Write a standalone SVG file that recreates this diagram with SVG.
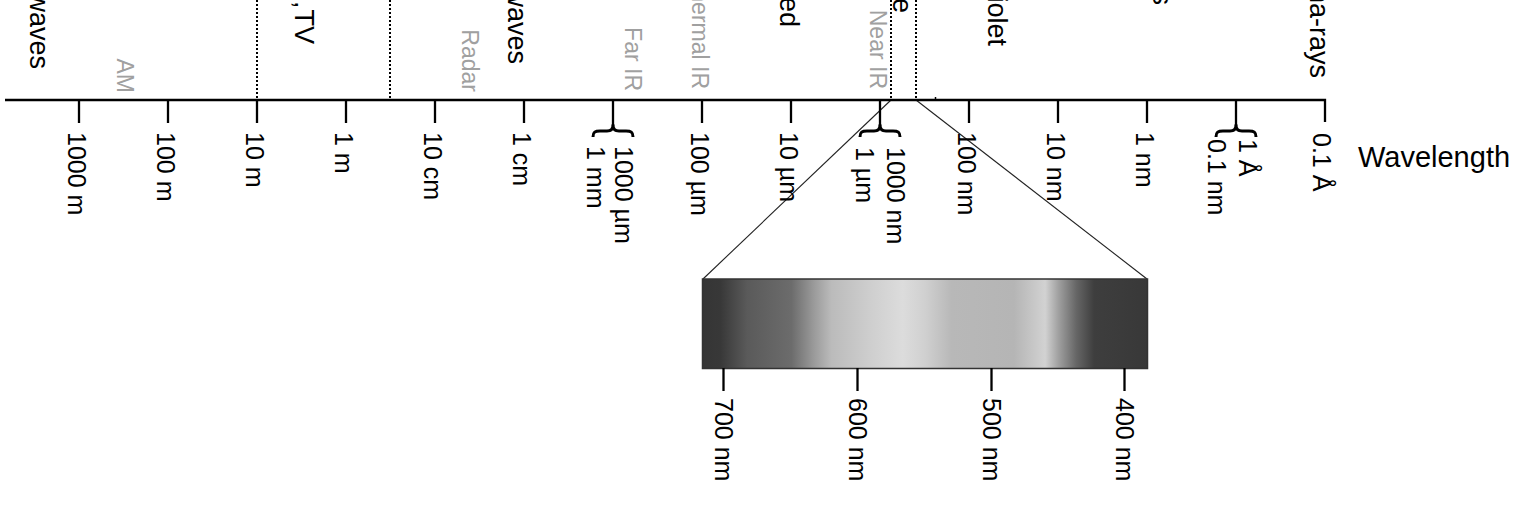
<svg xmlns="http://www.w3.org/2000/svg" width="1533" height="505" viewBox="0 0 1533 505">
<style>
text{font-family:"Liberation Sans",Arial,sans-serif;fill:#000}
.lbl{font-size:25px}
.gray{font-size:23px;fill:#a0a0a0;text-anchor:end}
.band{font-size:27px;text-anchor:end}
.axis{stroke:#000;stroke-width:2.3;fill:none}
.tick{stroke:#000;stroke-width:2.3}
.dot{stroke:#000;stroke-width:2;stroke-dasharray:2 2}
.brace{stroke:#000;stroke-width:3;fill:none;stroke-linejoin:round}
.zoom{stroke:#222;stroke-width:1.1}
</style>
<defs>
<linearGradient id="spec" x1="0" y1="0" x2="1" y2="0">
<stop offset="0" stop-color="#353535"/>
<stop offset="0.04" stop-color="#383838"/>
<stop offset="0.1" stop-color="#5a5a5a"/>
<stop offset="0.2" stop-color="#6c6c6c"/>
<stop offset="0.25" stop-color="#9a9a9a"/>
<stop offset="0.29" stop-color="#bbb"/>
<stop offset="0.38" stop-color="#cfcfcf"/>
<stop offset="0.45" stop-color="#dcdcdc"/>
<stop offset="0.5" stop-color="#d0d0d0"/>
<stop offset="0.56" stop-color="#b8b8b8"/>
<stop offset="0.7" stop-color="#b5b5b5"/>
<stop offset="0.77" stop-color="#d2d2d2"/>
<stop offset="0.8" stop-color="#a0a0a0"/>
<stop offset="0.84" stop-color="#666"/>
<stop offset="0.88" stop-color="#3e3e3e"/>
<stop offset="1" stop-color="#383838"/>
</linearGradient>
</defs>
<rect width="1533" height="505" fill="#fff"/>

<g id="connectors">
<line class="zoom" x1="891" y1="100" x2="703" y2="279"/>
<line class="zoom" x1="916" y1="100" x2="1147" y2="279"/>
</g>

<g id="band-dividers">
<line class="dot" x1="257" y1="0" x2="257" y2="100"/>
<line class="dot" x1="390" y1="0" x2="390" y2="100"/>
<line class="dot" x1="891" y1="0" x2="891" y2="100"/>
<line class="dot" x1="916" y1="0" x2="916" y2="100"/>
<line stroke="#000" stroke-width="1.5" x1="935.5" y1="97" x2="935.5" y2="100"/>
</g>

<g id="axis">
<polyline class="axis" points="5,100 1325,100 1325,122"/>
<g class="tick">
<line x1="79" y1="100" x2="79" y2="123"/>
<line x1="168" y1="100" x2="168" y2="123"/>
<line x1="257" y1="100" x2="257" y2="123"/>
<line x1="346" y1="100" x2="346" y2="123"/>
<line x1="435" y1="100" x2="435" y2="123"/>
<line x1="524" y1="100" x2="524" y2="123"/>
<line x1="613" y1="100" x2="613" y2="126"/>
<line x1="702" y1="100" x2="702" y2="123"/>
<line x1="791" y1="100" x2="791" y2="123"/>
<line x1="880" y1="100" x2="880" y2="126"/>
<line x1="969" y1="100" x2="969" y2="123"/>
<line x1="1058" y1="100" x2="1058" y2="123"/>
<line x1="1147" y1="100" x2="1147" y2="123"/>
<line x1="1236" y1="100" x2="1236" y2="126"/>
</g>
<path class="brace" d="M593,137 C593,132 595,131 600,131 L607,131 C611,131 613,129 613,125 C613,129 615,131 619,131 L626,131 C631,131 633,132 633,137"/>
<path class="brace" d="M860,137 C860,132 862,131 867,131 L874,131 C878,131 880,129 880,125 C880,129 882,131 886,131 L893,131 C898,131 900,132 900,137"/>
<path class="brace" d="M1216,137 C1216,132 1218,131 1223,131 L1230,131 C1234,131 1236,129 1236,125 C1236,129 1238,131 1242,131 L1249,131 C1254,131 1256,132 1256,137"/>
</g>

<g id="axis-labels" class="lbl">
<text transform="translate(67.5,132) rotate(90)">1000 m</text>
<text transform="translate(156.5,132) rotate(90)">100 m</text>
<text transform="translate(245.5,132) rotate(90)">10 m</text>
<text transform="translate(334.5,132) rotate(90)">1 m</text>
<text transform="translate(423.5,132) rotate(90)">10 cm</text>
<text transform="translate(512.5,132) rotate(90)">1 cm</text>
<text transform="translate(615,146) rotate(90)">1000 µm</text>
<text transform="translate(587,146) rotate(90)">1 mm</text>
<text transform="translate(690.5,132) rotate(90)">100 µm</text>
<text transform="translate(779.5,132) rotate(90)">10 µm</text>
<text transform="translate(887,147) rotate(90)">1000 nm</text>
<text transform="translate(856,147) rotate(90)">1 µm</text>
<text transform="translate(957.5,132) rotate(90)">100 nm</text>
<text transform="translate(1046.5,132) rotate(90)">10 nm</text>
<text transform="translate(1135.5,132) rotate(90)">1 nm</text>
<text transform="translate(1239,139) rotate(90)">1 Å</text>
<text transform="translate(1208,139) rotate(90)">0.1 nm</text>
<text transform="translate(1313,133) rotate(90)">0.1 Å</text>
</g>

<g id="sub-bands">
<text class="gray" transform="translate(117,93) rotate(90)">AM</text>
<text class="gray" transform="translate(462,92) rotate(90)">Radar</text>
<text class="gray" transform="translate(625,91) rotate(90)">Far IR</text>
<text class="gray" transform="translate(692,89) rotate(90)">hermal IR</text>
<text class="gray" transform="translate(870,89) rotate(90)">Near IR</text>
</g>

<g id="bands">
<text class="band" transform="translate(30,69) rotate(90)">waves</text>
<text class="band" transform="translate(295,44) rotate(90)">,<tspan dx="-6"> TV</tspan></text>
<text class="band" transform="translate(508,64) rotate(90)">waves</text>
<text class="band" transform="translate(780,27) rotate(90)">ed</text>
<text class="band" transform="translate(893,13) rotate(90)">e</text>
<text class="band" transform="translate(988,46) rotate(90)">iolet</text>
<text class="band" transform="translate(1153,5) rotate(90)">s</text>
<text class="band" transform="translate(1310,78) rotate(90)">na-rays</text>
</g>

<g id="wavelength-title">
<text x="1358" y="167" font-size="29">Wavelength</text>
</g>

<g id="visible-spectrum">
<rect x="702.5" y="279" width="445" height="89.5" fill="url(#spec)" stroke="#333" stroke-width="1.5"/>
<g class="tick">
<line x1="723.5" y1="368" x2="723.5" y2="391"/>
<line x1="857.5" y1="368" x2="857.5" y2="391"/>
<line x1="991.5" y1="368" x2="991.5" y2="391"/>
<line x1="1124.5" y1="368" x2="1124.5" y2="391"/>
</g>
<g class="lbl">
<text transform="translate(715,398) rotate(90)">700 nm</text>
<text transform="translate(849,398) rotate(90)">600 nm</text>
<text transform="translate(983,398) rotate(90)">500 nm</text>
<text transform="translate(1116,398) rotate(90)">400 nm</text>
</g>
</g>
</svg>
